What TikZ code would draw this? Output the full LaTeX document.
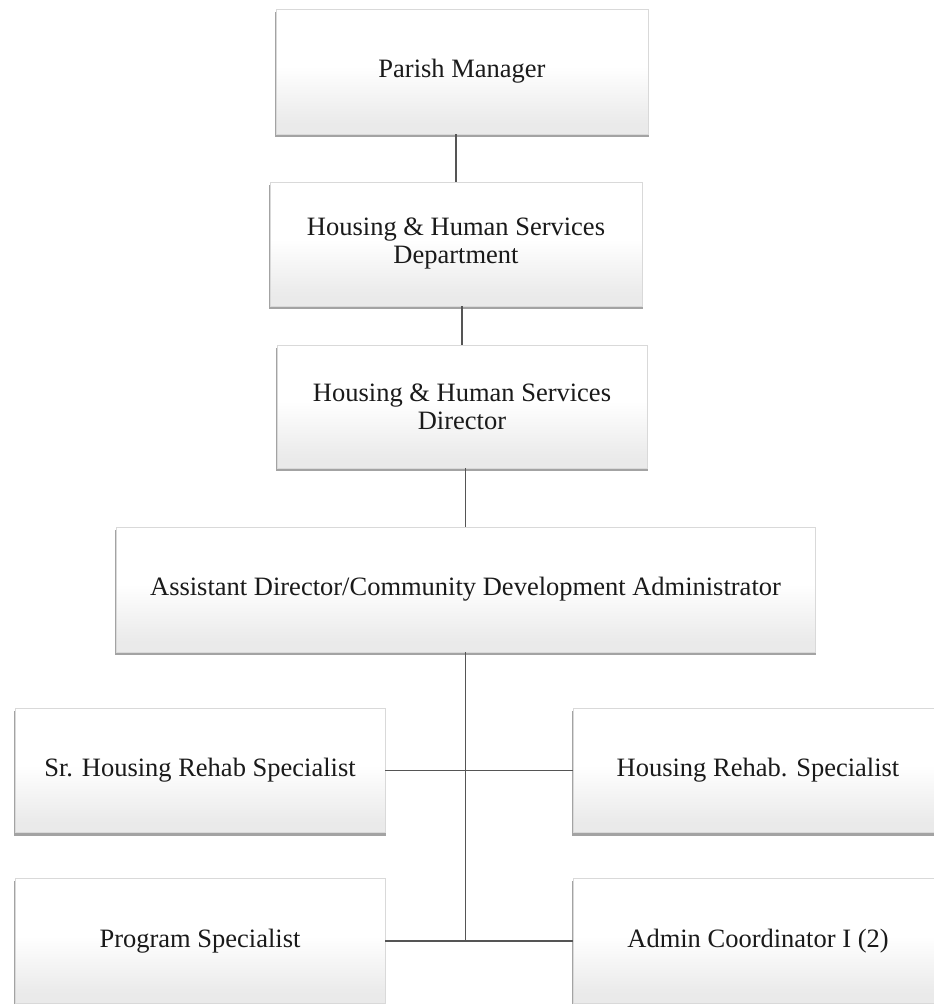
\documentclass[tikz,border=0pt]{standalone}
\usepackage{fontspec}
\setmainfont{Liberation Serif}
\usetikzlibrary{shadows}
\pgfdeclareverticalshading{boxshade}{100bp}{color(0bp)=(black!10); color(30bp)=(black!8); color(52bp)=(white); color(100bp)=(white)}
\definecolor{linegray}{HTML}{555555}
\definecolor{txt}{HTML}{1A1A1A}
\tikzset{
  orgbox/.style={rectangle, shading=boxshade, draw=black!15, line width=0.6pt,
    general shadow={shadow xshift=0pt, shadow yshift=-3pt, shadow scale=1.004, fill=black!60, opacity=0.6},
    text=txt, align=center, inner sep=0pt,
    font=\fontsize{26.5}{28}\selectfont},
  wide/.style={minimum width=370pt, minimum height=124pt},
  conn/.style={draw=linegray, line width=1.3pt}
}
\begin{document}
\begin{tikzpicture}[x=1pt,y=-1pt]
\useasboundingbox (0,0) rectangle (934,1004);
\fill[white] (0,0) rectangle (934,1004);
\clip (0,0) rectangle (934,1004);
\node[orgbox, minimum width=372pt, minimum height=125pt] (pm) at (462,71.5) {Parish Manager};
\node[orgbox, minimum width=372pt, minimum height=124pt] (dept) at (456,244) {Housing \& Human Services\\Department};
\node[orgbox, minimum width=370pt, minimum height=123pt] (dir) at (462,406.5) {Housing \& Human Services\\Director};
\node[orgbox, minimum width=699pt, minimum height=125pt] (asst) at (465.5,589.5) {Assistant Director/Community Development Administrator};
\node[orgbox, wide] (sr) at (200,770.5) {Sr. Housing Rehab Specialist};
\node[orgbox, wide] (hr) at (758,770.5) {Housing Rehab. Specialist};
\node[orgbox, wide, minimum height=125pt] (ps) at (200,941) {Program Specialist};
\node[orgbox, wide, minimum height=125pt] (ac) at (758,941) {Admin Coordinator I (2)};
\draw[conn] (pm.south -| dept.north) -- (dept.north);
\draw[conn] (dept.south -| dir.north) -- (dir.north);
\draw[conn] (dir.south -| asst.north) -- (asst.north);
\draw[conn] (asst.south) -- (asst.south |- ps.east);
\draw[conn] (sr.east) -- (hr.west);
\draw[conn] (ps.east) -- (ac.west);
\end{tikzpicture}
\end{document}
